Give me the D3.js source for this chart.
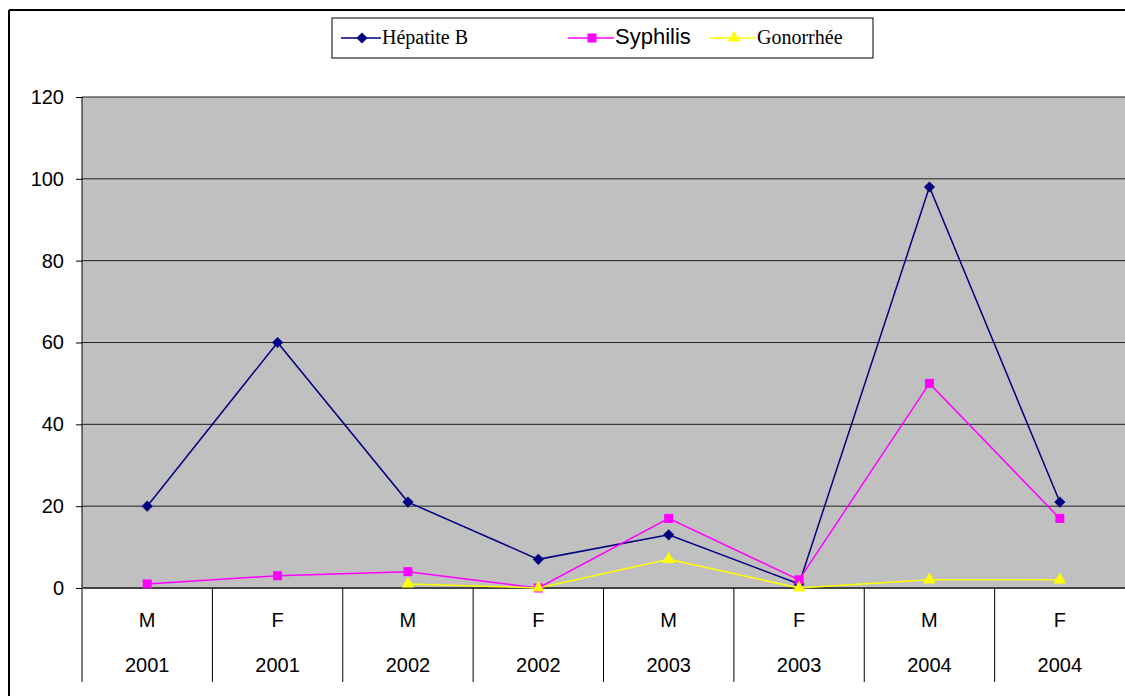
<!doctype html>
<html>
<head>
<style>
  body { margin: 0; background: #fff; }
  svg { display: block; font-family: Arial, "Liberation Sans", sans-serif; }
</style>
<script src="https://d3js.org/d3.v7.min.js"></script>
</head>
<body>
<svg width="1125" height="696" class="chart"></svg>
<script>
  // data
  var sexes = ["M", "F", "M", "F", "M", "F", "M", "F"];
  var years = ["2001", "2001", "2002", "2002", "2003", "2003", "2004", "2004"];
  var hepatiteB = [20, 60, 21, 7, 13, 1, 98, 21];
  var syphilis = [1, 3, 4, 0, 17, 2, 50, 17];
  var gonorrhee = [null, null, 1, 0, 7, 0, 2, 2];
  var yTicks = [0, 20, 40, 60, 80, 100, 120];

  var series = [
    { name: "Hépatite B", values: hepatiteB, color: "#000080", shape: d3.symbolSquare, size: 62, rot: 45 },
    { name: "Syphilis", values: syphilis, color: "#ff00ff", shape: d3.symbolSquare, size: 81, rot: 0 },
    { name: "Gonorrhée", values: gonorrhee, color: "#ffff00", shape: d3.symbolTriangle, size: 68, rot: 0 }
  ];

  var svg = d3.select(".chart");
  var plotLeft = 82, plotRight = 1125, plotTop = 97, plotBottom = 588;

  // outer frame (cut on right and bottom)
  svg.append("line").attr("x1", 9).attr("x2", 1125).attr("y1", 10).attr("y2", 10)
     .attr("stroke", "#000").attr("stroke-width", 2);
  svg.append("line").attr("x1", 9).attr("x2", 9).attr("y1", 10).attr("y2", 696)
     .attr("stroke", "#000").attr("stroke-width", 2);

  var idx = d3.range(sexes.length);
  var xScale = d3.scaleBand().domain(idx).range([plotLeft, plotRight]);
  var yScale = d3.scaleLinear().domain([0, 120]).range([plotBottom, plotTop]);

  // plot area
  svg.append("rect").attr("x", plotLeft).attr("y", plotTop)
     .attr("width", plotRight - plotLeft).attr("height", plotBottom - plotTop)
     .attr("fill", "#c0c0c0");

  // gridlines
  svg.append("g").selectAll("line")
     .data(yTicks.filter(function(d) { return d > 0; }))
     .enter().append("line")
     .attr("x1", plotLeft).attr("x2", plotRight)
     .attr("y1", function(d) { return yScale(d); })
     .attr("y2", function(d) { return yScale(d); })
     .attr("stroke", "#222").attr("stroke-width", 1);

  // y axis
  var yAxis = svg.append("g")
     .attr("transform", "translate(" + plotLeft + ",0)")
     .call(d3.axisLeft(yScale).tickValues(yTicks).tickSize(6).tickPadding(12));
  yAxis.select(".domain").remove();
  yAxis.selectAll("line").attr("stroke", "#000");
  yAxis.selectAll("text").attr("font-size", "20px").attr("font-family", "Arial, 'Liberation Sans', sans-serif").attr("fill", "#000");
  svg.append("line").attr("x1", plotLeft).attr("x2", plotLeft).attr("y1", plotTop).attr("y2", 682)
     .attr("stroke", "#000").attr("stroke-width", 1);

  // baseline
  svg.append("line").attr("x1", plotLeft).attr("x2", plotRight)
     .attr("y1", yScale(0)).attr("y2", yScale(0))
     .attr("stroke", "#444").attr("stroke-width", 2);

  // category separators and labels
  var cat = svg.append("g");
  cat.selectAll(".sep").data(idx.slice(1)).enter().append("line")
     .attr("x1", function(d) { return xScale(d); })
     .attr("x2", function(d) { return xScale(d); })
     .attr("y1", plotBottom).attr("y2", 682)
     .attr("stroke", "#000").attr("stroke-width", 1);
  cat.selectAll(".sex").data(idx).enter().append("text")
     .attr("x", function(d) { return xScale(d) + xScale.bandwidth() / 2; })
     .attr("y", 627).attr("text-anchor", "middle").attr("font-size", "20px")
     .text(function(d) { return sexes[d]; });
  cat.selectAll(".year").data(idx).enter().append("text")
     .attr("x", function(d) { return xScale(d) + xScale.bandwidth() / 2; })
     .attr("y", 672).attr("text-anchor", "middle").attr("font-size", "20px")
     .text(function(d) { return years[d]; });

  // lines and markers
  var line = d3.line()
     .defined(function(d) { return d != null; })
     .x(function(d, i) { return xScale(i) + xScale.bandwidth() / 2; })
     .y(function(d) { return yScale(d); });

  series.forEach(function(s) {
    svg.append("path").datum(s.values)
       .attr("fill", "none").attr("stroke", s.color).attr("stroke-width", 1.5)
       .attr("d", line);
  });
  series.forEach(function(s) {
    svg.append("g").selectAll("path")
       .data(s.values.map(function(v, i) { return { v: v, i: i }; })
                     .filter(function(d) { return d.v != null; }))
       .enter().append("path")
       .attr("d", d3.symbol().type(s.shape).size(s.size))
       .attr("transform", function(d) {
         return "translate(" + (xScale(d.i) + xScale.bandwidth() / 2) + "," + yScale(d.v) + ") rotate(" + s.rot + ")";
       })
       .attr("fill", s.color);
  });

  // legend
  var legend = svg.append("g");
  legend.append("rect").attr("x", 332).attr("y", 18).attr("width", 541).attr("height", 40)
     .attr("fill", "#fff").attr("stroke", "#000").attr("stroke-width", 1);
  var legendItems = [
    { s: series[0], x: 341, w: 40, font: "'Liberation Serif', 'Times New Roman', serif", size: "20px" },
    { s: series[1], x: 568, w: 46, font: "Arial, 'Liberation Sans', sans-serif", size: "22px" },
    { s: series[2], x: 710, w: 46, font: "'Liberation Serif', 'Times New Roman', serif", size: "20px" }
  ];
  legendItems.forEach(function(it) {
    legend.append("line").attr("x1", it.x).attr("x2", it.x + it.w)
       .attr("y1", 38).attr("y2", 38)
       .attr("stroke", it.s.color).attr("stroke-width", 1.5);
    legend.append("path")
       .attr("d", d3.symbol().type(it.s.shape).size(it.s.size))
       .attr("transform", "translate(" + (it.x + it.w / 2 + 1) + ",38) rotate(" + it.s.rot + ")")
       .attr("fill", it.s.color);
    legend.append("text").attr("x", it.x + it.w + 1).attr("y", 44)
       .attr("font-family", it.font).attr("font-size", it.size)
       .text(it.s.name);
  });
</script>
</body>
</html>
